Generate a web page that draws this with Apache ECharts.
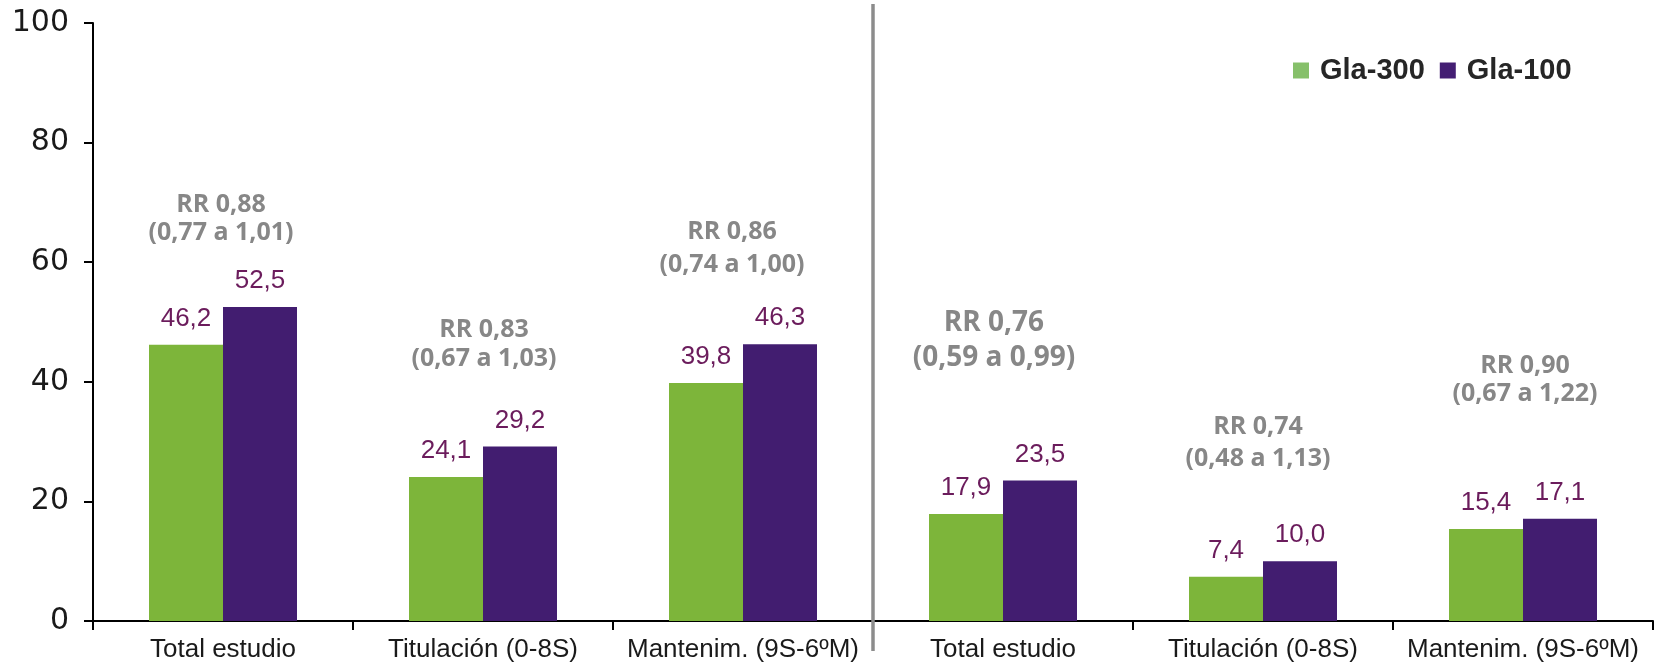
<!DOCTYPE html>
<html>
<head>
<meta charset="utf-8">
<script src="https://cdn.jsdelivr.net/npm/echarts@6/dist/echarts.min.js"></script>
<style>
  html, body { margin: 0; padding: 0; background: #ffffff; }
  #chart { width: 1661px; height: 668px; }
</style>
</head>
<body>
<div id="chart"></div>
<script>
// Categories: three periods for each of the two study blocks
const categories = [
  'Total estudio', 'Titulación (0-8S)', 'Mantenim. (9S-6ºM)',
  'Total estudio', 'Titulación (0-8S)', 'Mantenim. (9S-6ºM)'
];
const seriesNames = ['Gla-300', 'Gla-100'];
const gla300 = [46.2, 24.1, 39.8, 17.9, 7.4, 15.4];
const gla100 = [52.5, 29.2, 46.3, 23.5, 10.0, 17.1];

// Relative risk with 95% CI for each category
const rr = [0.88, 0.83, 0.86, 0.76, 0.74, 0.90];
const rrLow = [0.77, 0.67, 0.74, 0.59, 0.48, 0.67];
const rrHigh = [1.01, 1.03, 1.00, 0.99, 1.13, 1.22];

const yTicks = [0, 20, 40, 60, 80, 100];

// Placement of the RR annotations above each pair of bars (pixels)
const rrLayout = [
  { lift: 74, gap: 28, size: 25, dx: -2 },
  { lift: 88, gap: 29, size: 25, dx: 1 },
  { lift: 79, gap: 33, size: 25, dx: -11 },
  { lift: 122, gap: 35, size: 28, dx: -9 },
  { lift: 102, gap: 32, size: 25, dx: -5 },
  { lift: 125, gap: 28, size: 25, dx: 2 }
];

const GREEN = '#7db53a';
const PURPLE = '#421d70';
const LABEL_COLOR = '#6b1c5c';
const RR_COLOR = '#878787';

const fmt = (v, d) => v.toFixed(d).replace('.', ',');

const chart = echarts.init(document.getElementById('chart'), null, { renderer: 'canvas' });

const valueLabel = {
  show: true,
  position: 'top',
  distance: 13,
  color: LABEL_COLOR,
  fontFamily: 'Liberation Sans, Arial, sans-serif',
  fontSize: 26,
  formatter: p => fmt(p.value, 1)
};

const rrData = categories.map((c, i) => [i, Math.max(gla300[i], gla100[i])]);

const option = {
  backgroundColor: '#ffffff',
  animation: false,
  grid: { left: 93, right: 8, top: 23, bottom: 47, containLabel: false },
  legend: {
    data: [
      { name: seriesNames[0], itemStyle: { color: '#86c06a' } },
      { name: seriesNames[1], itemStyle: { color: '#441e73' } }
    ],
    left: 1288,
    top: 51,
    icon: 'rect',
    itemWidth: 16,
    itemHeight: 16,
    itemGap: 15,
    selectedMode: false,
    textStyle: {
      fontFamily: 'Liberation Sans, Arial, sans-serif',
      fontWeight: 'bold',
      fontSize: 29,
      color: '#262626',
      padding: [0, 0, 0, 6]
    }
  },
  xAxis: {
    type: 'category',
    data: categories,
    boundaryGap: true,
    axisLine: { show: true, lineStyle: { color: '#000000', width: 2 } },
    axisTick: { show: true, length: 9, lineStyle: { color: '#000000', width: 2 } },
    axisLabel: {
      interval: 0,
      margin: 16,
      color: '#1a1a1a',
      fontFamily: 'Liberation Sans, Arial, sans-serif',
      fontSize: 26
    }
  },
  yAxis: {
    type: 'value',
    min: yTicks[0],
    max: yTicks[yTicks.length - 1],
    interval: yTicks[1] - yTicks[0],
    splitLine: { show: false },
    axisLine: { show: true, lineStyle: { color: '#000000', width: 2 } },
    axisTick: { show: true, length: 9, lineStyle: { color: '#000000', width: 2 } },
    axisLabel: {
      margin: 24,
      color: '#1a1a1a',
      fontFamily: 'DejaVu Sans, sans-serif',
      fontSize: 30
    }
  },
  series: [
    {
      name: seriesNames[0],
      type: 'bar',
      data: gla300,
      barWidth: 74,
      barGap: '0%',
      itemStyle: { color: GREEN },
      label: valueLabel
    },
    {
      name: seriesNames[1],
      type: 'bar',
      data: gla100,
      barWidth: 74,
      barGap: '0%',
      itemStyle: { color: PURPLE },
      label: valueLabel
    },
    {
      name: 'RR',
      type: 'custom',
      data: rrData,
      silent: true,
      z: 5,
      renderItem: (params, api) => {
        const i = params.dataIndex;
        const pos = api.coord([api.value(0), api.value(1)]);
        const L = rrLayout[i];
        const x = pos[0] + L.dx;
        const y2 = pos[1] - L.lift;
        const font = 'bold ' + L.size + 'px "Open Sans", "Liberation Sans", sans-serif';
        return {
          type: 'group',
          children: [
            {
              type: 'text',
              style: {
                x: x, y: y2 - L.gap,
                text: 'RR ' + fmt(rr[i], 2),
                font: font, fill: RR_COLOR,
                align: 'center', verticalAlign: 'middle'
              }
            },
            {
              type: 'text',
              style: {
                x: x, y: y2,
                text: '(' + fmt(rrLow[i], 2) + ' a ' + fmt(rrHigh[i], 2) + ')',
                font: font, fill: RR_COLOR,
                align: 'center', verticalAlign: 'middle'
              }
            }
          ]
        };
      }
    }
  ]
};

chart.setOption(option);

// Vertical divider between the two study blocks, placed on the category boundary
function drawDivider() {
  const left = chart.convertToPixel({ xAxisIndex: 0 }, 2);
  const right = chart.convertToPixel({ xAxisIndex: 0 }, 3);
  const xMid = (left + right) / 2;
  const yTop = chart.convertToPixel({ yAxisIndex: 0 }, yTicks[yTicks.length - 1]) - 19;
  const yBottom = chart.convertToPixel({ yAxisIndex: 0 }, yTicks[0]) + 30;
  chart.setOption({
    graphic: [{
      type: 'line',
      z: 10,
      shape: { x1: xMid, y1: yTop, x2: xMid, y2: yBottom },
      style: { stroke: '#8c8c8c', lineWidth: 3.5 }
    }]
  });
}
drawDivider();
</script>
</body>
</html>
